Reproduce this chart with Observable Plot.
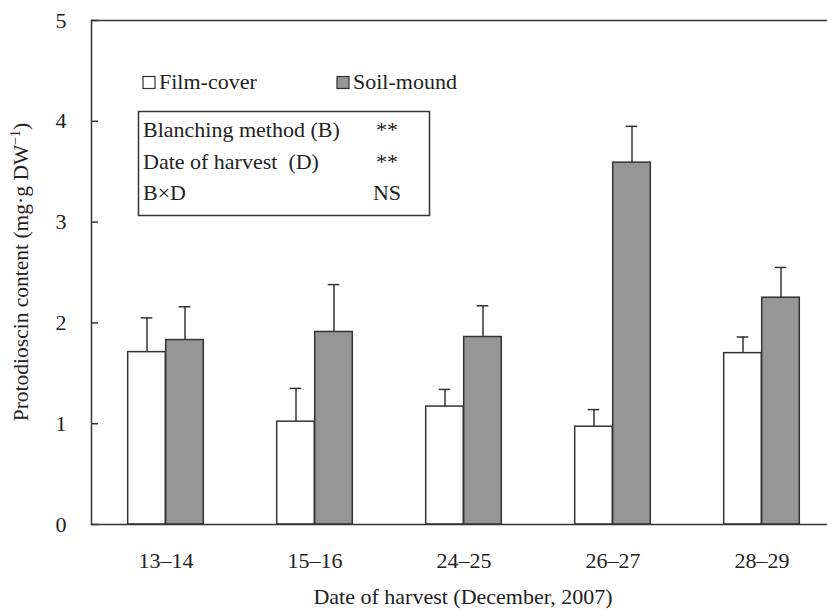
<!DOCTYPE html>
<html>
<head>
<meta charset="utf-8">
<script src="https://cdn.jsdelivr.net/npm/d3@7"></script>
<script src="https://cdn.jsdelivr.net/npm/@observablehq/plot@0.6"></script>
<style>
body { margin: 0; background: #fff; }
svg text { font-family: "Liberation Serif", "DejaVu Serif", serif; }
</style>
</head>
<body>
<div id="chart"></div>
<script>
const dates = ["13–14", "15–16", "24–25", "26–27", "28–29"];
const filmCover = [1.71, 1.02, 1.17, 0.97, 1.70];
const filmCoverSE = [0.34, 0.33, 0.17, 0.17, 0.16];
const soilMound = [1.83, 1.91, 1.86, 3.59, 2.25];
const soilMoundSE = [0.33, 0.47, 0.31, 0.36, 0.30];
const yTicks = [0, 1, 2, 3, 4, 5];
const seriesNames = ["Film-cover", "Soil-mound"];
const statsRows = [
  {term: "Blanching method (B)", sig: "**"},
  {term: "Date of harvest  (D)", sig: "**"},
  {term: "B×D", sig: "NS"}
];

const data = [];
dates.forEach((d, i) => {
  data.push({date: d, series: seriesNames[0], value: filmCover[i], se: filmCoverSE[i]});
  data.push({date: d, series: seriesNames[1], value: soilMound[i], se: soilMoundSE[i]});
});
const film = data.filter(d => d.series === seriesNames[0]);
const soil = data.filter(d => d.series === seriesNames[1]);

const W = 827, H = 611;
const mL = 91, mR = 0, mT = 20, mB = 87;
const xRange = [90, 837];
const step = (xRange[1] - xRange[0]) / dates.length;
const half = step / 2;
const barW = 38;
const capHalf = 6;
const ink = "#333";
const txt = "#222";
const fs = 22;
const frameW = W - mL - mR;

const chart = Plot.plot({
  width: W,
  height: H,
  marginLeft: mL,
  marginRight: mR,
  marginTop: mT,
  marginBottom: mB,
  style: {fontFamily: "Liberation Serif, serif", fontSize: fs + "px", color: txt, background: "#fff"},
  x: {domain: dates, range: xRange, padding: 0},
  y: {domain: [0, 5], ticks: yTicks},
  marks: [
    Plot.axisX({tickSize: 0, tickPadding: 28, fontSize: fs, label: null}),
    Plot.axisY(yTicks, {tickSize: 0, tickPadding: 25, fontSize: fs, tickFormat: d => String(d), label: null}),
    Plot.tickY(yTicks, {y: d => d, stroke: ink, strokeWidth: 1.5, insetRight: frameW - 7}),
    // error bars
    Plot.ruleX(film, {x: "date", y1: "value", y2: d => d.value + d.se, dx: -barW / 2, stroke: ink, strokeWidth: 1.5}),
    Plot.ruleX(soil, {x: "date", y1: "value", y2: d => d.value + d.se, dx: barW / 2, stroke: ink, strokeWidth: 1.5}),
    Plot.tickY(film, {x: "date", y: d => d.value + d.se, insetLeft: half - barW / 2 - capHalf, insetRight: half + barW / 2 - capHalf, stroke: ink, strokeWidth: 1.5}),
    Plot.tickY(soil, {x: "date", y: d => d.value + d.se, insetLeft: half + barW / 2 - capHalf, insetRight: half - barW / 2 - capHalf, stroke: ink, strokeWidth: 1.5}),
    // bars
    Plot.barY(film, {x: "date", y: "value", insetLeft: half - barW, insetRight: half, fill: "#fff", stroke: ink, strokeWidth: 1.5}),
    Plot.barY(soil, {x: "date", y: "value", insetLeft: half, insetRight: half - barW, fill: "#969696", stroke: ink, strokeWidth: 1.5}),
    // frame lines
    Plot.ruleY([0, 5], {stroke: ink, strokeWidth: 1.5}),
    Plot.frame({anchor: "left", stroke: ink, strokeWidth: 1.5})
  ]
});

const svg = d3.select(chart);
// x axis title
svg.append("text")
  .attr("x", 463).attr("y", 604)
  .attr("text-anchor", "middle")
  .attr("font-size", fs).attr("fill", txt)
  .text("Date of harvest (December, 2007)");

// y axis title with superscript
const yt = svg.append("text")
  .attr("transform", "translate(28,272) rotate(-90)")
  .attr("text-anchor", "middle")
  .attr("font-size", 21.5).attr("fill", txt);
yt.append("tspan").text("Protodioscin content (mg·g DW");
yt.append("tspan").attr("dy", -8).attr("font-size", 14).text("−1");
yt.append("tspan").attr("dy", 8).text(")");

// legend
const leg = svg.append("g").attr("font-size", fs).attr("fill", txt).attr("text-anchor", "start");
const legendItems = [
  {name: seriesNames[0], fill: "#fff", x: 143},
  {name: seriesNames[1], fill: "#969696", x: 337}
];
legendItems.forEach(it => {
  leg.append("rect").attr("x", it.x).attr("y", 76.5).attr("width", 12).attr("height", 12)
    .attr("fill", it.fill).attr("stroke", ink).attr("stroke-width", 1.2);
  leg.append("text").attr("x", it.x + 16).attr("y", 89).text(it.name);
});

// stats box
const box = svg.append("g").attr("font-size", fs).attr("fill", txt);
box.append("rect").attr("x", 138.5).attr("y", 111.5).attr("width", 291).attr("height", 104)
  .attr("fill", "#fff").attr("stroke", ink).attr("stroke-width", 1.5);
statsRows.forEach((r, i) => {
  box.append("text").attr("x", 143).attr("y", 137 + i * 31.5).attr("text-anchor", "start")
    .style("white-space", "pre").text(r.term);
  box.append("text").attr("x", 387).attr("y", 137 + i * 31.5).attr("text-anchor", "middle").text(r.sig);
});

document.getElementById("chart").appendChild(chart);
</script>
</body>
</html>
